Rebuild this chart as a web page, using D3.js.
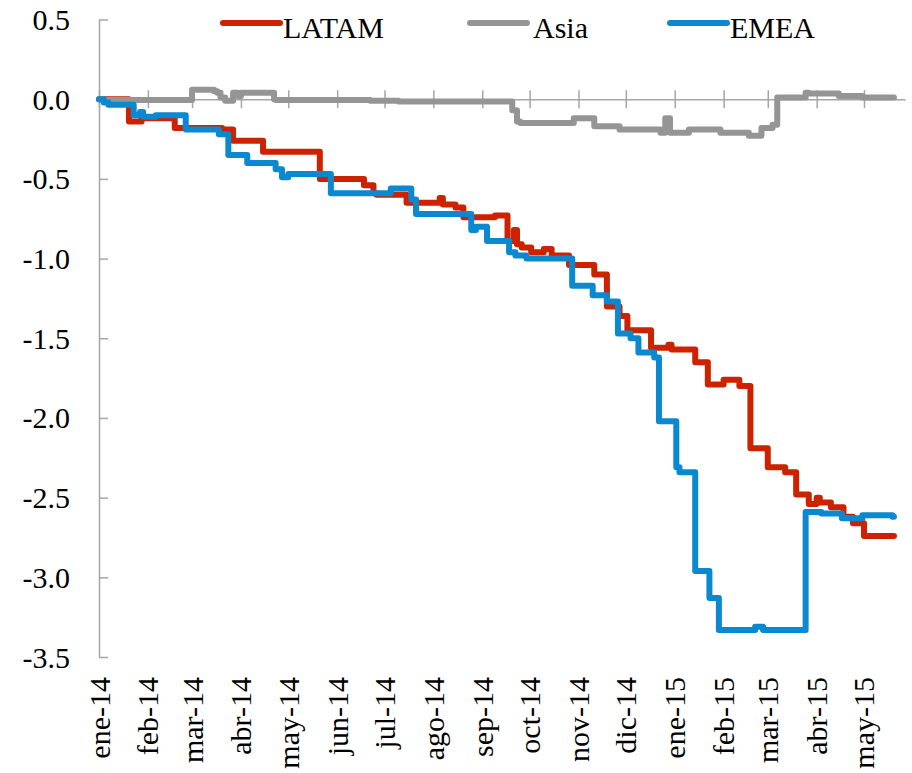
<!DOCTYPE html>
<html>
<head>
<meta charset="utf-8">
<script src="https://cdn.jsdelivr.net/npm/d3@7"></script>
<style>
  html, body { margin: 0; padding: 0; background: #ffffff; }
  svg { display: block; }
</style>
</head>
<body>
<svg id="chart" width="912" height="773" font-family="'Liberation Serif', 'Times New Roman', Tinos, serif"></svg>
<script>
// ---------- data ----------
const seriesNames = ["LATAM", "Asia", "EMEA"];

const latamDates = ["2014-01-01","2014-01-20","2014-01-28","2014-02-18","2014-03-20","2014-03-22","2014-03-27","2014-04-15","2014-05-21","2014-06-18","2014-06-24","2014-06-26","2014-07-15","2014-08-05","2014-08-07","2014-08-15","2014-08-20","2014-09-09","2014-09-17","2014-09-21","2014-09-23","2014-09-26","2014-10-02","2014-10-10","2014-10-15","2014-10-26","2014-11-11","2014-11-19","2014-11-27","2014-12-02","2014-12-17","2014-12-28","2014-12-30","2015-01-14","2015-01-22","2015-02-01","2015-02-11","2015-02-18","2015-03-01","2015-03-12","2015-03-19","2015-03-27","2015-04-01","2015-04-03","2015-04-10","2015-04-18","2015-04-24","2015-05-01","2015-05-20"];
const latamValues = [0.00,-0.14,-0.12,-0.18,-0.20,-0.19,-0.26,-0.33,-0.50,-0.54,-0.59,-0.60,-0.65,-0.62,-0.66,-0.68,-0.74,-0.73,-0.89,-0.82,-0.91,-0.93,-0.96,-0.94,-0.98,-1.04,-1.10,-1.30,-1.36,-1.45,-1.56,-1.54,-1.57,-1.65,-1.79,-1.76,-1.80,-2.19,-2.31,-2.34,-2.48,-2.54,-2.50,-2.53,-2.56,-2.62,-2.66,-2.74,-2.74];

const asiaDates = ["2014-01-01","2014-01-03","2014-03-01","2014-03-15","2014-03-17","2014-03-19","2014-03-22","2014-03-27","2014-03-30","2014-04-01","2014-04-22","2014-04-23","2014-06-22","2014-07-10","2014-09-20","2014-09-23","2014-09-25","2014-10-29","2014-11-11","2014-11-27","2014-12-23","2014-12-26","2014-12-29","2015-01-10","2015-01-30","2015-02-17","2015-02-25","2015-03-04","2015-03-07","2015-03-25","2015-03-27","2015-04-15","2015-04-30","2015-05-20"];
const asiaValues = [0.00,-0.005,0.06,0.05,0.04,0.01,-0.01,0.04,0.02,0.04,0.00,-0.005,-0.01,-0.015,-0.07,-0.14,-0.15,-0.12,-0.17,-0.19,-0.21,-0.12,-0.21,-0.19,-0.21,-0.23,-0.18,-0.16,0.01,0.04,0.035,0.02,0.01,0.01];

const emeaDates = ["2014-01-01","2014-01-04","2014-01-07","2014-01-23","2014-01-27","2014-01-29","2014-02-06","2014-02-25","2014-03-18","2014-03-24","2014-04-05","2014-04-23","2014-04-27","2014-05-01","2014-05-28","2014-07-05","2014-07-18","2014-07-21","2014-08-25","2014-08-28","2014-09-04","2014-09-18","2014-09-22","2014-09-29","2014-10-28","2014-11-10","2014-11-19","2014-11-26","2014-12-04","2014-12-09","2014-12-19","2014-12-22","2015-01-02","2015-01-04","2015-01-14","2015-01-23","2015-01-29","2015-02-21","2015-02-26","2015-03-25","2015-04-04","2015-04-17","2015-04-30","2015-05-19","2015-05-20"];
const emeaValues = [0.00,-0.02,-0.035,-0.10,-0.08,-0.11,-0.10,-0.19,-0.22,-0.35,-0.40,-0.44,-0.49,-0.47,-0.59,-0.56,-0.63,-0.72,-0.82,-0.80,-0.89,-0.96,-0.98,-1.00,-1.17,-1.23,-1.27,-1.47,-1.50,-1.59,-1.62,-2.02,-2.31,-2.34,-2.96,-3.13,-3.33,-3.31,-3.33,-2.59,-2.60,-2.63,-2.61,-2.62,-2.62];

const monthTicks = ["2014-01-01","2014-02-01","2014-03-01","2014-04-01","2014-05-01","2014-06-01","2014-07-01","2014-08-01","2014-09-01","2014-10-01","2014-11-01","2014-12-01","2015-01-01","2015-02-01","2015-03-01","2015-04-01","2015-05-01"];
const monthLabels = ["ene-14","feb-14","mar-14","abr-14","may-14","jun-14","jul-14","ago-14","sep-14","oct-14","nov-14","dic-14","ene-15","feb-15","mar-15","abr-15","may-15"];
const yTicks = [0.5, 0.0, -0.5, -1.0, -1.5, -2.0, -2.5, -3.0, -3.5];

// ---------- setup ----------
const FONT = "'Liberation Serif', 'Times New Roman', Tinos, serif";
const parse = d3.timeParse("%Y-%m-%d");
const colors = { LATAM: "#CC2200", Asia: "#959595", EMEA: "#0A88D0" };

const svg = d3.select("#chart");
const x = d3.scaleTime()
  .domain([parse("2014-01-01"), parse("2015-05-27")])
  .range([99, 905]);
const y = d3.scaleLinear().domain([-3.5, 0.5]).range([657, 19.5]);

const fmt = v => d3.format(".1f")(v).replace("\u2212", "-");
const axisColor = "#A6A6A6";

// y axis
const yAxis = d3.axisRight(y).tickValues(yTicks).tickSize(9).tickFormat("");
const gy = svg.append("g").attr("transform", "translate(99,0)").call(yAxis);
gy.select(".domain").attr("stroke", axisColor).attr("stroke-width", 1.5).attr("d", `M0.5,${y(0.5)}V${y(-3.5)}`);
gy.selectAll(".tick line").attr("stroke", axisColor).attr("stroke-width", 1.5);

svg.append("g").selectAll("text").data(yTicks).join("text")
  .attr("x", 70).attr("y", d => y(d)).attr("dy", "0.35em")
  .attr("text-anchor", "end").attr("font-size", 30)
  .attr("font-family", FONT).attr("fill", "#000")
  .text(d => fmt(d));

// x axis at y=0, cross ticks
const tickDates = monthTicks.map(parse);
const xAxis = d3.axisTop(x).tickValues(tickDates).tickSizeInner(9).tickSizeOuter(0).tickFormat("");
const gx = svg.append("g").attr("transform", `translate(0,${y(0)})`).call(xAxis);
gx.select(".domain").attr("stroke", axisColor).attr("stroke-width", 1.5);
gx.selectAll(".tick line").attr("stroke", axisColor).attr("stroke-width", 1.5).attr("y1", 9).attr("y2", -9);

// x labels (rotated)
svg.append("g").selectAll("text").data(tickDates).join("text")
  .attr("transform", d => `translate(${x(d)},677) rotate(-90)`)
  .attr("dy", "0.35em")
  .attr("text-anchor", "end").attr("font-size", 30)
  .attr("font-family", FONT).attr("fill", "#000")
  .text((d, i) => monthLabels[i]);

// series
const series = [
  { name: "LATAM", dates: latamDates, values: latamValues },
  { name: "Asia", dates: asiaDates, values: asiaValues },
  { name: "EMEA", dates: emeaDates, values: emeaValues }
];
const line = d3.line()
  .x(d => x(d[0])).y(d => y(d[1]))
  .curve(d3.curveStepAfter);

series.forEach(s => {
  const pts = s.dates.map((d, i) => [parse(d), s.values[i]]);
  svg.append("path")
    .datum(pts)
    .attr("fill", "none")
    .attr("stroke", colors[s.name])
    .attr("stroke-width", 6)
    .attr("stroke-linejoin", "round")
    .attr("stroke-linecap", "round")
    .attr("d", line);
});

// legend
const legendPos = [
  { name: "LATAM", x1: 223, x2: 280, tx: 283 },
  { name: "Asia", x1: 470, x2: 527, tx: 533 },
  { name: "EMEA", x1: 670, x2: 727, tx: 730 }
];
const lg = svg.append("g");
legendPos.forEach(l => {
  lg.append("line")
    .attr("x1", l.x1).attr("x2", l.x2).attr("y1", 23).attr("y2", 23)
    .attr("stroke", colors[l.name]).attr("stroke-width", 6)
    .attr("stroke-linecap", "round");
  lg.append("text").attr("x", l.tx).attr("y", 38).attr("font-size", 30)
    .attr("font-family", FONT).attr("fill", "#000").text(l.name);
});
</script>
</body>
</html>
